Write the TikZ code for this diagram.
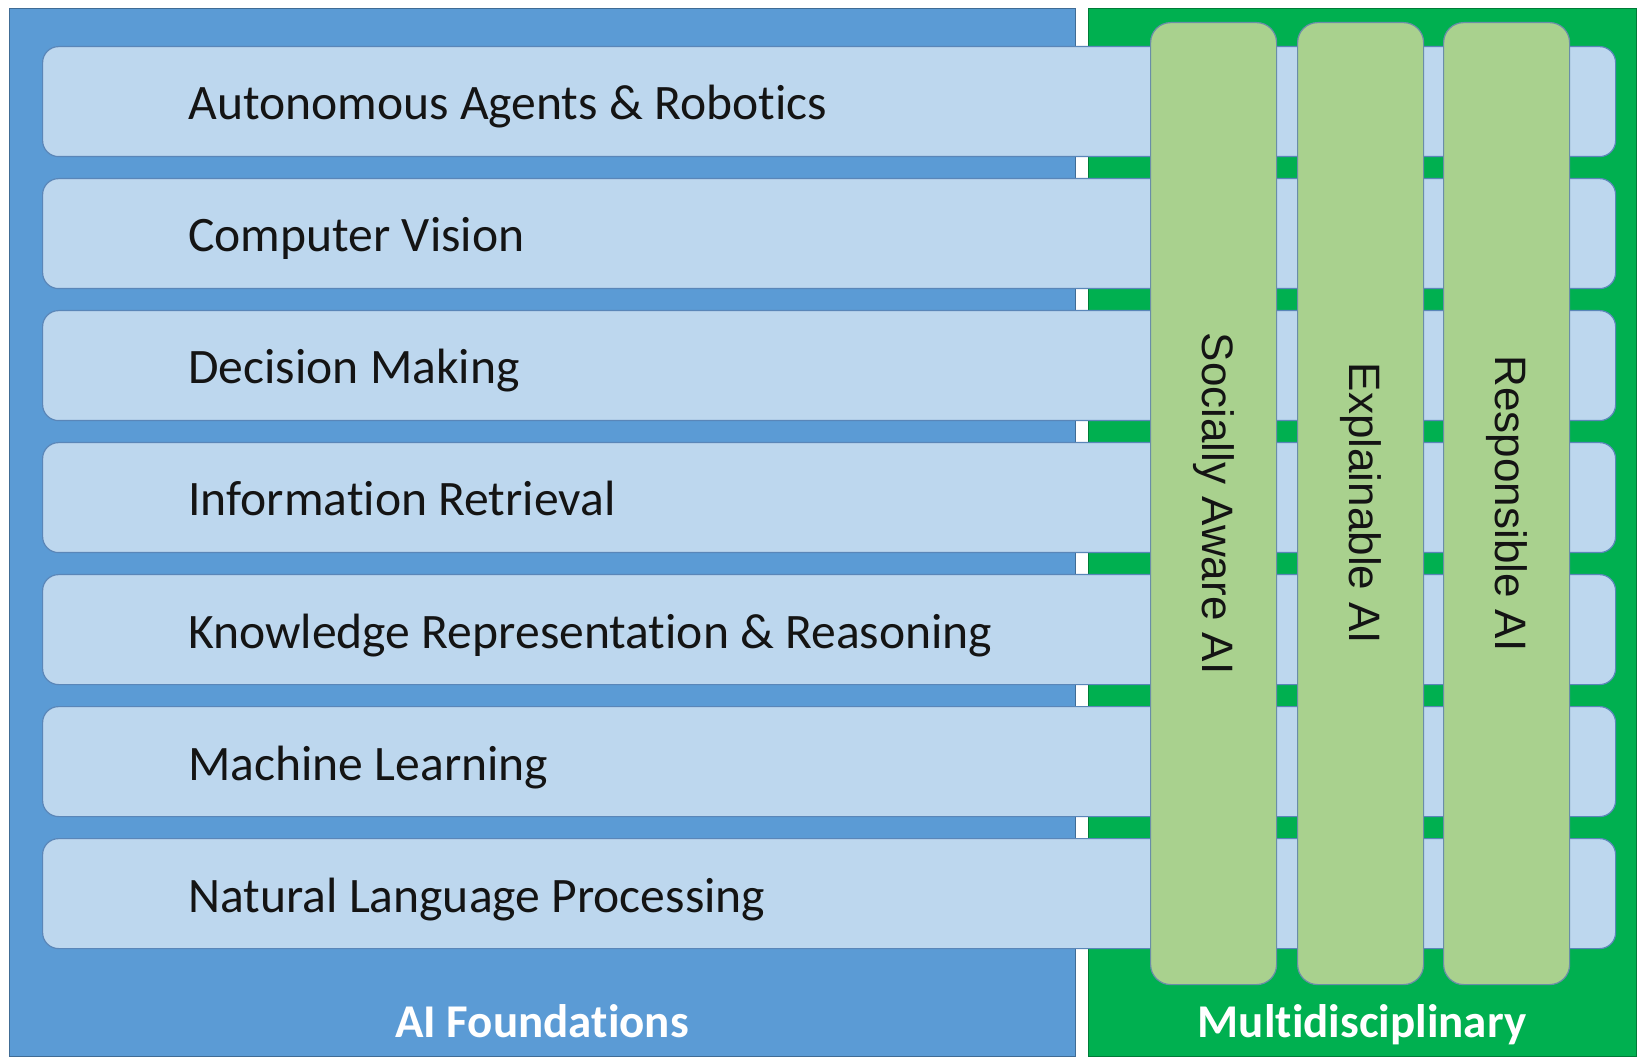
\documentclass[tikz,border=0pt]{standalone}
\usepackage{fontspec}
\setmainfont{Carlito}[Ligatures={NoCommon}]
\newfontfamily\arialf{Liberation Sans}
\definecolor{panelblue}{HTML}{5B9BD5}
\definecolor{panelgreen}{HTML}{00B050}
\definecolor{barfill}{HTML}{BDD7EE}
\definecolor{barline}{HTML}{5A86B8}
\definecolor{colfill}{HTML}{A9D18E}
\definecolor{colline}{HTML}{6A8DA8}
\definecolor{txt}{HTML}{141414}
\tikzset{
  panel/.style={draw=#1!70!black, line width=0.5pt},
  barbox/.style={draw=barline, fill=barfill, line width=0.6pt, rounded corners=8pt,
    minimum width=786.5pt, minimum height=55pt, inner sep=0pt, anchor=north west},
  colbox/.style={draw=colline, fill=colfill, line width=0.6pt, rounded corners=10pt,
    minimum width=63pt, minimum height=481pt, inner sep=0pt, anchor=north west},
  barlabel/.style={anchor=base west, inner sep=0pt, text=txt, font=\fontsize{24.8}{29}\selectfont},
  collabel/.style={rotate=-90, inner sep=0pt, text=txt, font=\arialf\fontsize{22}{26}\selectfont},
  panellabel/.style={anchor=base, inner sep=0pt, text=white, font=\bfseries\fontsize{23.5}{28}\selectfont}
}
\begin{document}
\begin{tikzpicture}[x=0.5pt, y=-0.5pt]
\useasboundingbox (0,0) rectangle (1638,1058);
\fill[white] (0,0) rectangle (1638,1058);
% panels
\path[panel=panelblue, fill=panelblue] (9,9) rectangle (1075,1056);
\path[panel=panelgreen, fill=panelgreen] (1088,9) rectangle (1636,1056);
% bars
\foreach \i/\t in {0/Autonomous Agents \& Robotics,
                   1/Computer Vision,
                   2/Decision Making,
                   3/Information Retrieval,
                   4/Knowledge Representation \& Reasoning,
                   5/Machine Learning,
                   6/Natural Language Processing}{
  \node[barbox] (bar\i) at (42,{46+132*\i}) {};
  \node[barlabel] (barlbl\i) at (188,{120+132*\i}) {\t};
}
% columns
\node[colbox] (col1) at (1150,22) {};
\node[colbox] (col2) at (1297,22) {};
\node[colbox] (col3) at (1443,22) {};
\node[collabel] (coltxt1) at (col1.center) {Socially Aware AI};
\node[collabel] (coltxt2) at (col2.center) {Explainable AI};
\node[collabel] (coltxt3) at (col3.center) {Responsible AI};
% panel labels
\node[panellabel] (lblfound) at (542,1037) {AI Foundations};
\node[panellabel] (lblmulti) at (1362,1037) {Multidisciplinary};
\end{tikzpicture}
\end{document}
